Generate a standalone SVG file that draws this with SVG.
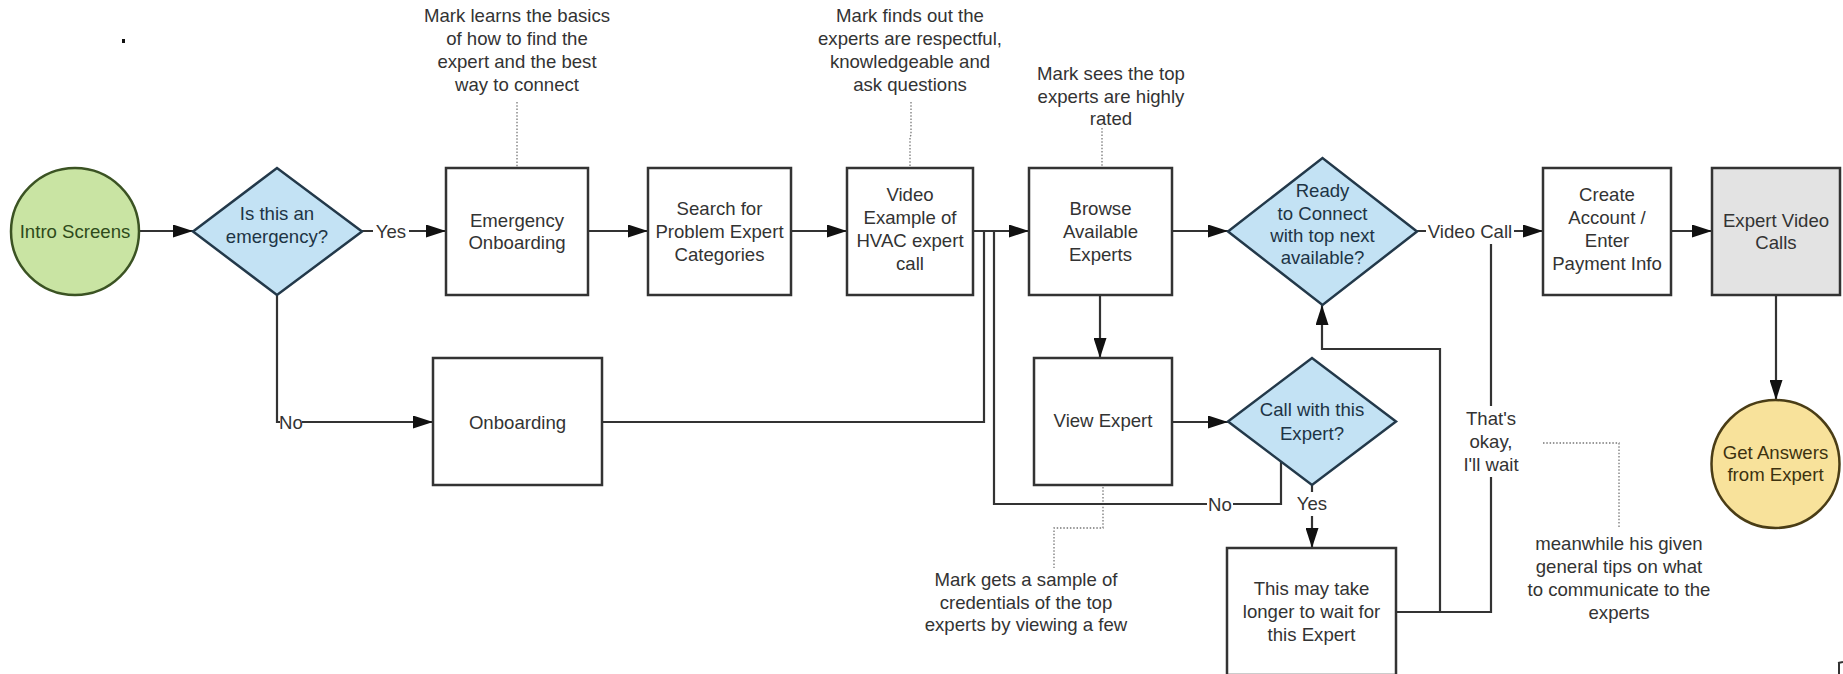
<svg xmlns="http://www.w3.org/2000/svg" width="1843" height="674" viewBox="0 0 1843 674">
<style>
text{font-family:"Liberation Sans",Arial,sans-serif;font-size:18.6px;fill:#333;text-anchor:middle}
.box{fill:#fff;stroke:#333;stroke-width:2.5}
.gray{fill:#e3e3e3;stroke:#333;stroke-width:2.5}
.dia{fill:#c3e2f4;stroke:#23394a;stroke-width:2.5}
.dia-t{fill:#1d3445}
.start{fill:#c9e4a3;stroke:#3b5323;stroke-width:2.5}
.start-t{fill:#2e4a1a}
.end{fill:#f8e29b;stroke:#4a3d16;stroke-width:2.5}
.end-t{fill:#3d3210}
.ln{fill:none;stroke:#333;stroke-width:2.2}
.arr{marker-end:url(#ah)}
.dot{fill:none;stroke:#777;stroke-width:1.3;stroke-dasharray:1.5 1.8}
.lbg{fill:#fff}
</style>
<defs>
<marker id="ah" markerUnits="userSpaceOnUse" markerWidth="20" markerHeight="13" refX="20" refY="6.5" orient="auto">
<path d="M0,0 L20,6.5 L0,13 z" fill="#111"/>
</marker>
</defs>

<rect x="122" y="39" width="3" height="4" fill="#111"/>
<path d="M1838,663 L1843,662 M1839,663 L1839,674" stroke="#333" stroke-width="2" fill="none"/>

<g id="annotations">
<path class="dot" d="M517,102 V168"/>
<path class="dot" d="M911,102 V135 L910,137 V168"/>
<path class="dot" d="M1102,128 V168"/>
<path class="dot" d="M1103,487 V528 H1054 V568"/>
<path class="dot" d="M1543,443 H1619 V527"/>
<text x="517" y="21.5">Mark learns the basics</text>
<text x="517" y="44.5">of how to find the</text>
<text x="517" y="67.5">expert and the best</text>
<text x="517" y="90.5">way to connect</text>
<text x="910" y="21.5">Mark finds out the</text>
<text x="910" y="44.5">experts are respectful,</text>
<text x="910" y="67.5">knowledgeable and</text>
<text x="910" y="90.5">ask questions</text>
<text x="1111" y="79.5">Mark sees the top</text>
<text x="1111" y="102.5">experts are highly</text>
<text x="1111" y="124.5">rated</text>
<text x="1026" y="585.5">Mark gets a sample of</text>
<text x="1026" y="608.5">credentials of the top</text>
<text x="1026" y="630.5">experts by viewing a few</text>
<text x="1619" y="549.5">meanwhile his given</text>
<text x="1619" y="572.5">general tips on what</text>
<text x="1619" y="595.5">to communicate to the</text>
<text x="1619" y="618.5">experts</text>
</g>

<g id="connectors">
<path class="ln arr" d="M139,231 H193"/>
<path class="ln arr" d="M362,231 H446"/>
<path class="ln arr" d="M277,295 V422 H433"/>
<path class="ln arr" d="M588,231 H648"/>
<path class="ln arr" d="M791,231 H847"/>
<path class="ln arr" d="M973,231 H1029"/>
<path class="ln" d="M602,422 H984 V231"/>
<path class="ln arr" d="M1172,231 H1228"/>
<path class="ln arr" d="M1100,295 V358"/>
<path class="ln arr" d="M1172,422 H1228"/>
<path class="ln" d="M1281,462 V504 H994 V231"/>
<path class="ln arr" d="M1312,485 V548"/>
<path class="ln arr" d="M1417,231 H1543"/>
<path class="ln arr" d="M1396,612 H1440 V349 H1322 V305"/>
<path class="ln" d="M1396,612 H1491 V231"/>
<path class="ln arr" d="M1671,231 H1712"/>
<path class="ln arr" d="M1776,295 V400"/>
<rect class="lbg" x="373" y="221" width="36" height="20"/>
<text x="391" y="237.5">Yes</text>
<rect class="lbg" x="280" y="412" width="22" height="20"/>
<text x="291" y="428.5">No</text>
<rect class="lbg" x="1426" y="218" width="88" height="26"/>
<text x="1470" y="237.5">Video Call</text>
<rect class="lbg" x="1207" y="494" width="26" height="20"/>
<text x="1220" y="510.5">No</text>
<rect class="lbg" x="1294" y="492" width="36" height="24"/>
<text x="1312" y="509.5">Yes</text>
<rect class="lbg" x="1459" y="406" width="64" height="71"/>
<text x="1491" y="424.5">That's</text>
<text x="1491" y="447.5">okay,</text>
<text x="1491" y="470.5">I'll wait</text>
</g>

<g id="intro">
<ellipse class="start" cx="75" cy="231.5" rx="64" ry="63.5"/>
<text class="start-t" x="75" y="237.5">Intro Screens</text>
</g>
<g id="emergency-q">
<path class="dia" d="M193,231.5 L277,168 L362,231.5 L277,295 z"/>
<text class="dia-t" x="277" y="219.5">Is this an</text>
<text class="dia-t" x="277" y="242.5">emergency?</text>
</g>
<g id="emergency-onboarding">
<rect class="box" x="446" y="168" width="142" height="127"/>
<text x="517" y="226.5">Emergency</text>
<text x="517" y="248.5">Onboarding</text>
</g>
<g id="onboarding">
<rect class="box" x="433" y="358" width="169" height="127"/>
<text x="517.5" y="428.5">Onboarding</text>
</g>
<g id="search">
<rect class="box" x="648" y="168" width="143" height="127"/>
<text x="719.5" y="214.5">Search for</text>
<text x="719.5" y="237.5">Problem Expert</text>
<text x="719.5" y="260.5">Categories</text>
</g>
<g id="video-example">
<rect class="box" x="847" y="168" width="126" height="127"/>
<text x="910" y="200.5">Video</text>
<text x="910" y="223.5">Example of</text>
<text x="910" y="246.5">HVAC expert</text>
<text x="910" y="269.5">call</text>
</g>
<g id="browse">
<rect class="box" x="1029" y="168" width="143" height="127"/>
<text x="1100.5" y="214.5">Browse</text>
<text x="1100.5" y="237.5">Available</text>
<text x="1100.5" y="260.5">Experts</text>
</g>
<g id="ready-q">
<path class="dia" d="M1228,231.5 L1322.5,158 L1417,231.5 L1322.5,305 z"/>
<text class="dia-t" x="1322.5" y="196.5">Ready</text>
<text class="dia-t" x="1322.5" y="219.5">to Connect</text>
<text class="dia-t" x="1322.5" y="241.5">with top next</text>
<text class="dia-t" x="1322.5" y="263.5">available?</text>
</g>
<g id="view-expert">
<rect class="box" x="1034" y="358" width="138" height="127"/>
<text x="1103" y="426.5">View Expert</text>
</g>
<g id="call-q">
<path class="dia" d="M1228,421.5 L1312,358 L1396,421.5 L1312,485 z"/>
<text class="dia-t" x="1312" y="415.5">Call with this</text>
<text class="dia-t" x="1312" y="439.5">Expert?</text>
</g>
<g id="wait-box">
<rect class="box" x="1227" y="548" width="169" height="127"/>
<text x="1311.5" y="594.5">This may take</text>
<text x="1311.5" y="617.5">longer to wait for</text>
<text x="1311.5" y="640.5">this Expert</text>
</g>
<g id="create-account">
<rect class="box" x="1543" y="168" width="128" height="127"/>
<text x="1607" y="200.5">Create</text>
<text x="1607" y="223.5">Account /</text>
<text x="1607" y="246.5">Enter</text>
<text x="1607" y="269.5">Payment Info</text>
</g>
<g id="expert-video-calls">
<rect class="gray" x="1712" y="168" width="128" height="127"/>
<text x="1776" y="226.5">Expert Video</text>
<text x="1776" y="248.5">Calls</text>
</g>
<g id="get-answers">
<ellipse class="end" cx="1775.5" cy="464" rx="64" ry="64"/>
<text class="end-t" x="1775.5" y="458.5">Get Answers</text>
<text class="end-t" x="1775.5" y="480.5">from Expert</text>
</g>
</svg>
